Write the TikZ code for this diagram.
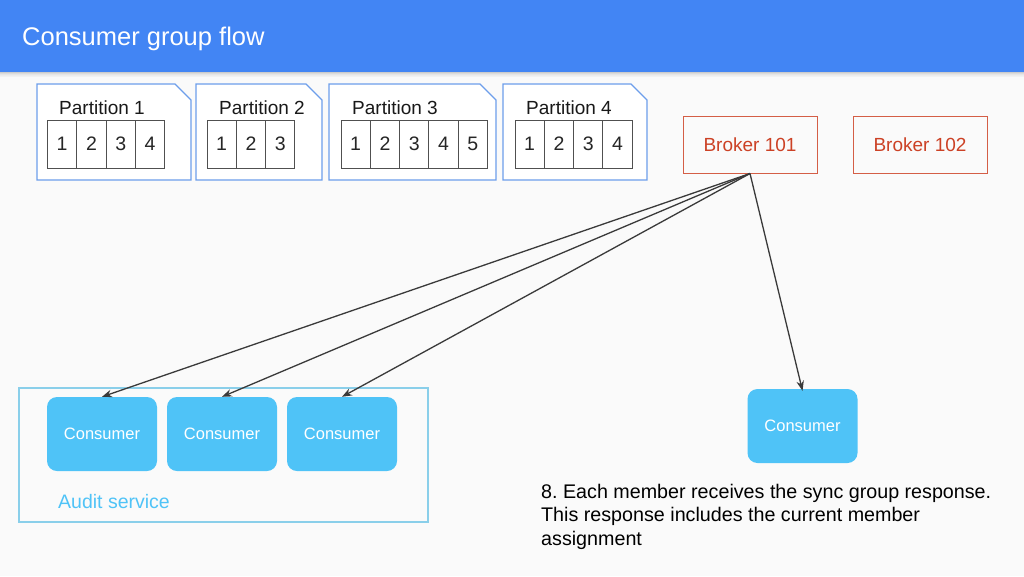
\documentclass[tikz,border=0pt]{standalone}
\usepackage{fontspec}
\setmainfont{Liberation Sans}
\usetikzlibrary{arrows.meta}
\definecolor{bg}{HTML}{FAFAFA}
\definecolor{titleblue}{HTML}{4285F4}
\definecolor{partblue}{HTML}{6D9EEB}
\definecolor{cellgray}{HTML}{505050}
\definecolor{brokerred}{HTML}{CC4125}
\definecolor{consfill}{HTML}{4FC3F7}
\definecolor{auditline}{HTML}{8ACFEA}
\definecolor{arrowgray}{HTML}{3A3A3A}
\frenchspacing
\tikzset{
  partbox/.style={draw=partblue, line width=1.2pt, fill=white},
  cellbox/.style={draw=cellgray, line width=1pt, fill=white, minimum width=29.3pt, minimum height=48pt, inner sep=0pt, font=\fontsize{19.5}{22}\selectfont, text=black!85},
  partlabel/.style={anchor=base west, inner sep=0pt, font=\fontsize{19}{22}\selectfont, text=black!90},
  brokerbox/.style={draw=brokerred!85, line width=1pt, minimum width=134pt, minimum height=57pt, inner sep=0pt, text=brokerred, font=\fontsize{19}{22}\selectfont},
  consbox/.style={fill=consfill, rounded corners=10pt, minimum width=110pt, minimum height=74pt, inner sep=0pt, text=white, font=\fontsize{16.5}{20}\selectfont},
  flow/.style={draw=arrowgray, line width=1.3pt, -{Stealth[length=10pt,width=7.5pt]}},
}
\begin{document}
\begin{tikzpicture}[x=1pt,y=-1pt]
\useasboundingbox (0,0) rectangle (1024,576);
\fill[bg] (0,0) rectangle (1024,576);
% title bar with shadow
\foreach \i/\o in {0/0.18,1/0.12,2/0.08,3/0.05,4/0.03}{
  \fill[black,opacity=\o] (0,72+\i) rectangle (1024,73+\i);
}
\fill[titleblue] (0,0) rectangle (1024,72);
\node[anchor=base west, inner sep=0pt, text=white, font=\fontsize{25.5}{30}\selectfont] (title) at (22,45) {Consumer group flow};

% partition outlines
\draw[partbox] (37,84) -- (175,84) -- (191,100) -- (191,180) -- (37,180) -- cycle;
\draw[partbox] (196,84) -- (306,84) -- (322,100) -- (322,180) -- (196,180) -- cycle;
\draw[partbox] (329,84) -- (480,84) -- (496,100) -- (496,180) -- (329,180) -- cycle;
\draw[partbox] (503,84) -- (631,84) -- (647,100) -- (647,180) -- (503,180) -- cycle;

\node[partlabel] (p1) at (59,114) {Partition 1};
\node[partlabel] (p2) at (219,114) {Partition 2};
\node[partlabel] (p3) at (352,114) {Partition 3};
\node[partlabel] (p4) at (526,114) {Partition 4};

% cells
\foreach \n in {1,...,4}{
  \node[cellbox] (a\n) at ({47.5+29.3*(\n-0.5)},144) {\n};
}
\foreach \n in {1,...,3}{
  \node[cellbox] (b\n) at ({207+29.3*(\n-0.5)},144) {\n};
}
\foreach \n in {1,...,5}{
  \node[cellbox] (c\n) at ({341+29.3*(\n-0.5)},144) {\n};
}
\foreach \n in {1,...,4}{
  \node[cellbox] (d\n) at ({515+29.3*(\n-0.5)},144) {\n};
}

% brokers
\node[brokerbox] (b101) at (750,144.5) {Broker 101};
\node[brokerbox] (b102) at (920,144.5) {Broker 102};

% audit service
\node[draw=auditline, line width=1.3pt, minimum width=409pt, minimum height=134pt, inner sep=0pt] (audit) at (223.5,455) {};
\node[anchor=base west, inner sep=0pt, text=consfill, font=\fontsize{19.5}{23}\selectfont] (auditlbl) at (58,508) {Audit service};

\node[consbox] (k1) at (102,434) {Consumer};
\node[consbox] (k2) at (222,434) {Consumer};
\node[consbox] (k3) at (342,434) {Consumer};
\node[consbox] (k4) at (802.5,426) {Consumer};

% arrows
\draw[flow] (b101.south) -- (k1.north);
\draw[flow] (b101.south) -- (k2.north);
\draw[flow] (b101.south) -- (k3.north);
\draw[flow] (b101.south) -- ([yshift=-2pt]k4.north);

% description (anchored at the baseline of its last line)
\node[anchor=base west, inner sep=0pt, align=left, text=black, font=\fontsize{19.7}{23.7}\selectfont] (desc) at (541,545.5) {8. Each member receives the sync group response.\\This response includes the current member\\assignment};
\end{tikzpicture}
\end{document}
